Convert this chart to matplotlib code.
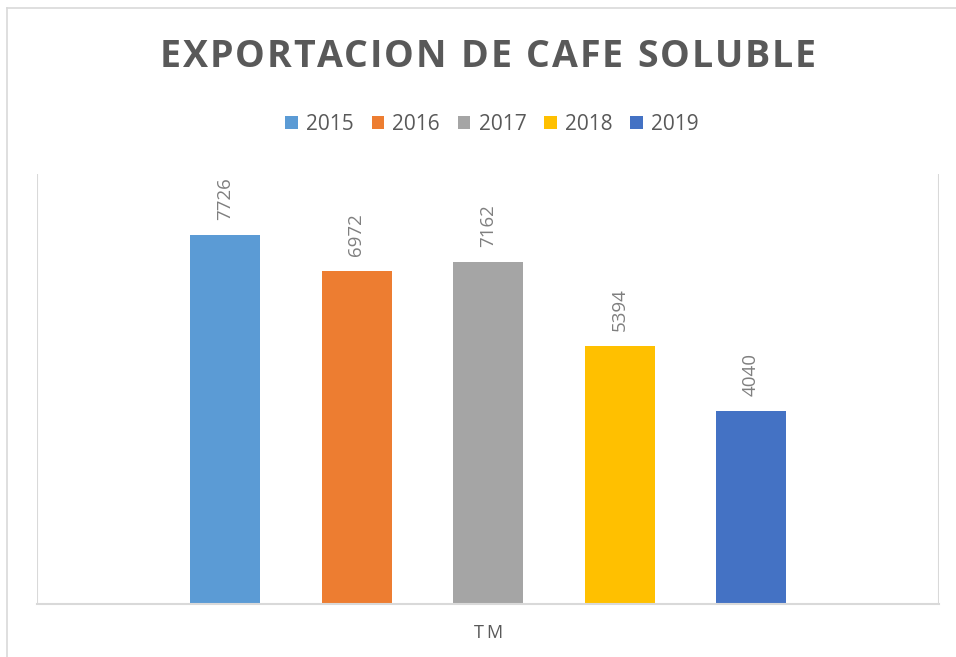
import matplotlib
matplotlib.use("Agg")
import matplotlib.pyplot as plt
from matplotlib.lines import Line2D
from matplotlib.patches import Patch

years = ["2015", "2016", "2017", "2018", "2019"]
values = [7726, 6972, 7162, 5394, 4040]
colors = ["#5B9BD5", "#ED7D31", "#A5A5A5", "#FFC000", "#4472C4"]
category = "TM"
title = "EXPORTACION DE CAFE SOLUBLE"

W, H = 956, 657
fig = plt.figure(figsize=(W / 100, H / 100), dpi=100)
grid_c = "#D9D9D9"
text_c = "#595959"


def spaced_text(s, xc, yc, spacing, **kw):
    # draw text char by char with extra letter spacing, centered at pixel (xc, yc)
    r = fig.canvas.get_renderer()
    arts, widths = [], []
    for ch in s:
        t = fig.text(0, 0, ch if ch != " " else "n", va="center", ha="left", **kw)
        w = t.get_window_extent(r).width
        if ch == " ":
            t.set_text("")
            w *= 0.45
        arts.append(t)
        widths.append(w)
    total = sum(widths) + spacing * (len(s) - 1)
    x = xc - total / 2
    for t, w in zip(arts, widths):
        t.set_position((x / W, 1 - yc / H))
        x += w + spacing


# chart outer border (left and top edges visible)
fig.add_artist(Line2D([7 / W, 7 / W], [0, 1 - 8 / H], color=grid_c, lw=1.2))
fig.add_artist(Line2D([7 / W, 1], [1 - 8 / H, 1 - 8 / H], color=grid_c, lw=1.2))

ax = fig.add_axes([37 / W, 53 / H, 902 / W, 430 / H])
step = 131.5
half = 451 / step
for i, (yr, v, c) in enumerate(zip(years, values, colors)):
    x = i - 2
    ax.bar(x, v, width=70 / step, color=c, zorder=2)
    ax.text(x, v + 320, str(v), rotation=90, ha="center", va="bottom",
            fontsize=13.5, color="#7F7F7F", family="Open Sans")

ax.set_xlim(-half, half)
ax.set_ylim(0, 9000)
for side in ["top", "right", "left"]:
    ax.spines[side].set_visible(False)
ax.spines["bottom"].set_color(grid_c)
ax.spines["bottom"].set_linewidth(1.5)
ax.axvline(-half, color=grid_c, lw=1.5, zorder=1)
ax.axvline(half, color=grid_c, lw=1.5, zorder=1)
ax.set_xticks([])
ax.set_yticks([])

spaced_text(category, 488, 633, 3, fontsize=13, color=text_c, family="Open Sans")
spaced_text(title, 488, 57, 1.8, fontsize=27, color=text_c, family="Open Sans",
            fontweight="bold")

handles = [Patch(facecolor=c, edgecolor="none") for c in colors]
fig.legend(handles, years, loc="center", bbox_to_anchor=(492 / W, 1 - 124 / H),
           ncol=5, frameon=False, handlelength=0.6, handleheight=0.6,
           handletextpad=0.4, columnspacing=0.85, labelcolor=text_c,
           prop={"family": "Open Sans", "size": 15})

fig.savefig("out.png", dpi=100)
